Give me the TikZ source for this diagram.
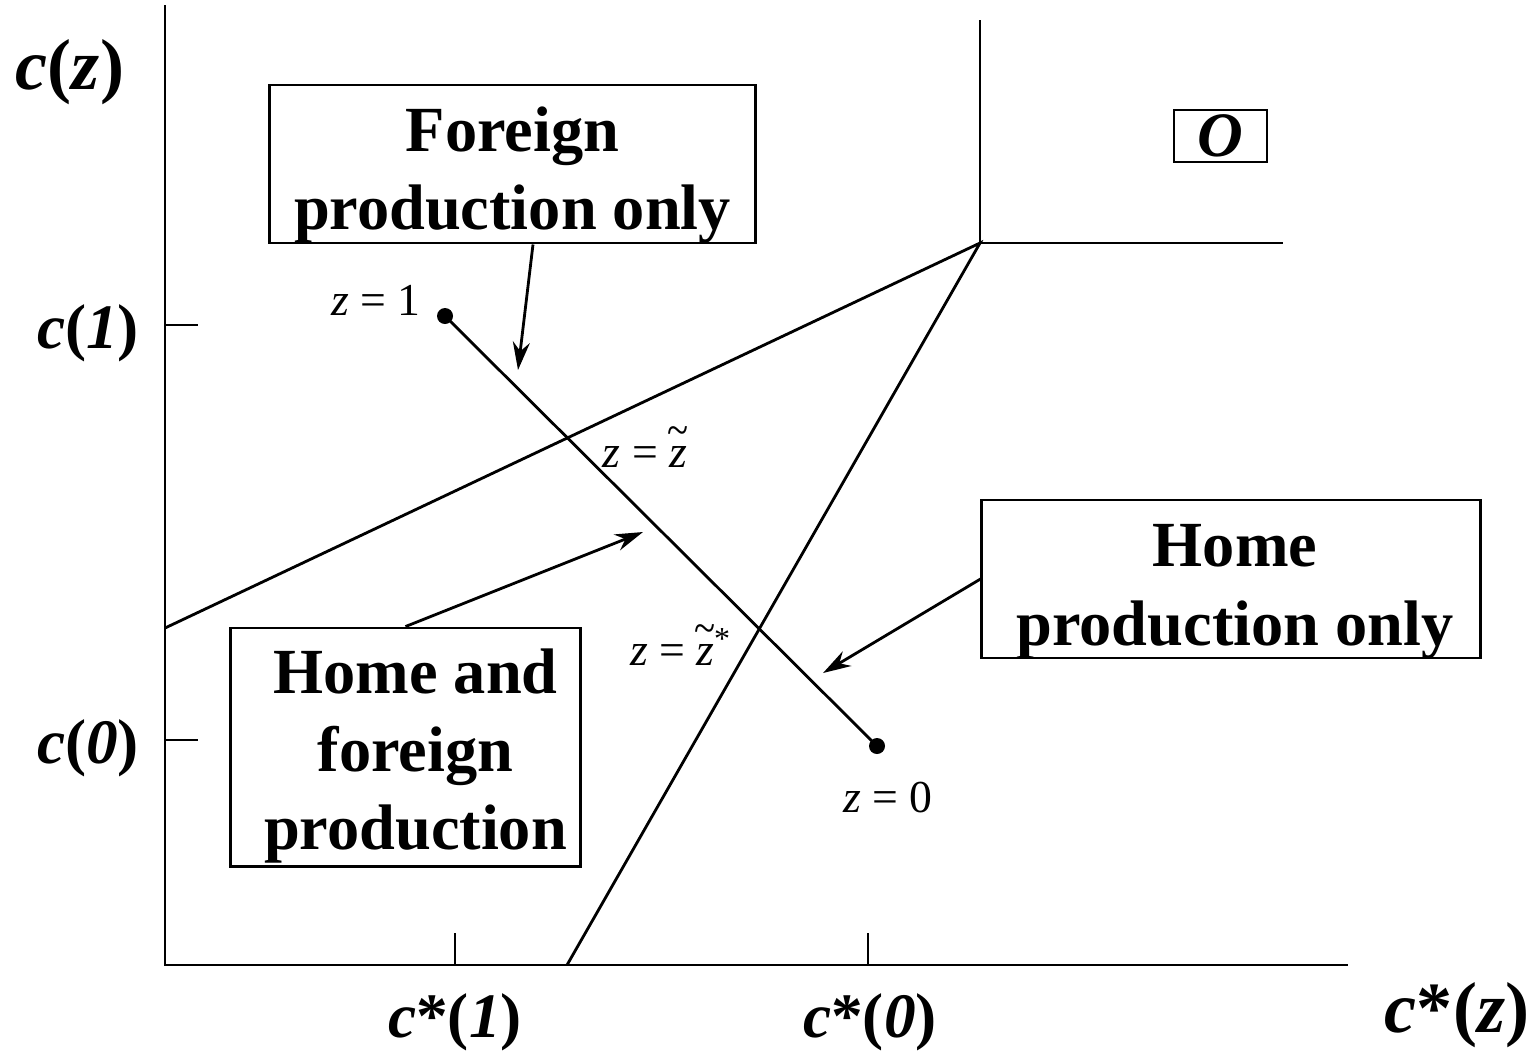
\documentclass[tikz,border=0pt]{standalone}
\usepackage{fontspec}
\setmainfont{Liberation Serif}
\usetikzlibrary{arrows.meta,positioning,calc}

\newcommand{\costlab}[2]{\textit{c}#1(\textit{#2})}
\newcommand{\eqsp}{\hspace{0.25em}=\hspace{0.25em}}
\newcommand{\ztil}{\textit{z}\llap{\raisebox{0.47em}{\scalebox{0.85}[1]{\char"7E}}\kern-0.03em}}

\tikzset{
  region/.style={draw, line width=0.8pt, inner sep=0pt},
  boxtext/.style={align=center, inner sep=0pt,
    font=\fontsize{18.3}{22.3}\selectfont\bfseries},
  axlabel/.style={font=\fontsize{18}{21}\selectfont\bfseries},
  biglabel/.style={font=\fontsize{20.5}{24}\selectfont\bfseries},
  zlabel/.style={font=\fontsize{13}{15}\selectfont},
  pointer/.style={-{Stealth[length=0.28cm,width=0.17cm]}, line width=0.8pt},
}

\begin{document}
\begin{tikzpicture}[x=0.01cm, y=-0.01cm, line width=0.8pt]
\useasboundingbox (0,0) rectangle (1537,1050);

% axes
\coordinate (Orig) at (165,965);
\draw (165,5) -- (Orig) -- (1348,965);
\draw (165,325) -- ++(33,0);
\draw (165,740) -- ++(33,0);
\draw (455,965) -- ++(0,-32);
\draw (868,965) -- ++(0,-32);

\node[biglabel] (cz) at (70,72) {\costlab{}{z}};
\node[axlabel] (c1) at (88,333) {\costlab{}{1}};
\node[axlabel] (c0) at (88,748) {\costlab{}{0}};
\node[axlabel] (cs1) at (455,1022) {\costlab{*}{1}};
\node[axlabel] (cs0) at (870,1022) {\costlab{*}{0}};
\node[biglabel] (csz) at (1457,1015) {\costlab{*}{z}};

% regime borders
\coordinate (K) at (980,243);
\draw (980,20) -- (K) -- (1283,243);
\draw (165,628) -- (K) -- (567,965);

% the z line
\coordinate (z1) at (445,316);
\coordinate (z0) at (877,746);
\draw (z1) -- (z0);
\fill (z1) circle[radius=0.08cm];
\fill (z0) circle[radius=0.08cm];

\node[zlabel] (lz1) at (376,300) {\textit{z}\eqsp1};
\node[zlabel] (lzt) at (645,447) {\textit{z}\eqsp\ztil};
\node[zlabel] (lzts) at (681,645) {\textit{z}\eqsp\ztil\textsuperscript{*}};
\node[zlabel] (lz0) at (888,797) {\textit{z}\eqsp0};

% regions
\node[region, minimum width=4.85cm, minimum height=1.58cm] (FPO) at (512.5,164) {};
\node[boxtext, yshift=-0.11cm] at (FPO.center) {Foreign\\production only};
\node[region, font=\fontsize{18}{21}\selectfont\bfseries\itshape,
  minimum width=0.93cm, minimum height=0.52cm] (Obox) at (1220.5,136) {O};
\node[region, minimum width=4.98cm, minimum height=1.58cm] (HP) at (1231,579) {};
\node[boxtext, yshift=-0.13cm, xshift=0.04cm] at (HP.center) {Home\\production only};
\node[region, minimum width=3.49cm, minimum height=2.38cm] (HF) at (405.5,747) {};
\node[boxtext, yshift=-0.09cm, xshift=0.1cm] at (HF.center) {Home and\\foreign\\production};

% pointers
\coordinate (fpoTip) at (518,370);
\coordinate (hfTip) at (643,532);
\coordinate (hpTip) at (823,673);
\draw[pointer] ($(FPO.south)+(20.5,0)$) -- (fpoTip);
\draw[pointer] (HF.north) -- (hfTip);
\draw[pointer] (HP.west) -- (hpTip);

\end{tikzpicture}
\end{document}
